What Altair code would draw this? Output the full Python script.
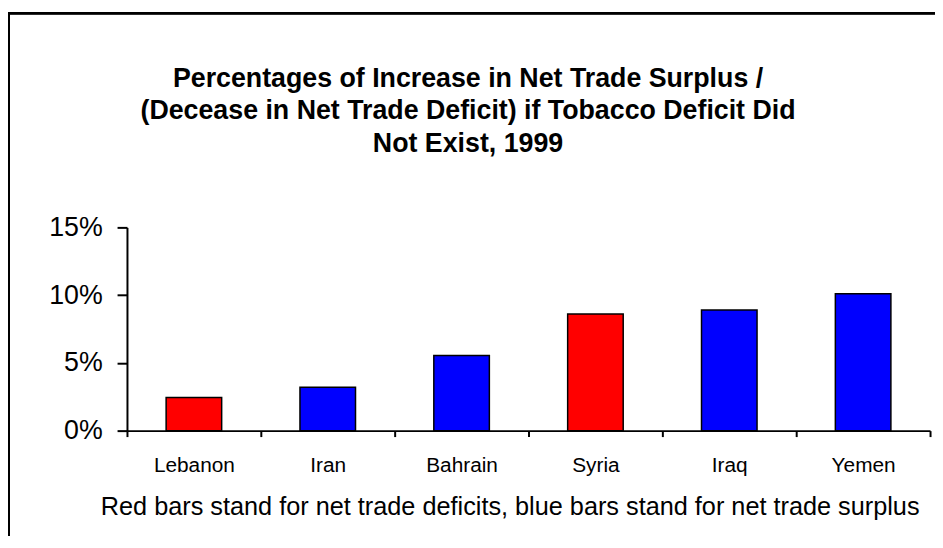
import altair as alt
import pandas as pd

countries = ["Lebanon", "Iran", "Bahrain", "Syria", "Iraq", "Yemen"]
values = [0.0245, 0.032, 0.0555, 0.086, 0.089, 0.101]
balance = ["deficit", "surplus", "surplus", "deficit", "surplus", "surplus"]
y_ticks = [0, 0.05, 0.10, 0.15]

title_lines = [
    "Percentages of Increase in Net Trade Surplus /",
    "(Decease in Net Trade Deficit) if Tobacco Deficit Did",
    "Not Exist, 1999",
]
footnote = "Red bars stand for net trade deficits, blue bars stand for net trade surplus"

df = pd.DataFrame({"country": countries, "value": values, "balance": balance})

FONT = "Liberation Sans"

bars = alt.Chart(df).mark_bar(
    stroke="black", strokeWidth=1.5, width=alt.RelativeBandSize(0.415)
).encode(
    x=alt.X(
        "country:N",
        sort=countries,
        scale=alt.Scale(paddingInner=0, paddingOuter=0),
        axis=alt.Axis(
            title=footnote,
            titleFont=FONT,
            titleFontSize=25.5,
            titleFontWeight="normal",
            titleColor="black",
            titlePadding=20,
            titleX=386,
            titleAnchor="middle",
            labelFont=FONT,
            labelFontSize=21,
            labelColor="black",
            labelAngle=0,
            labelPadding=18,
            domainColor="black",
            domainWidth=2,
            tickColor="black",
            tickWidth=2,
            tickSize=6,
            tickBand="extent",
            grid=False,
        ),
    ),
    y=alt.Y(
        "value:Q",
        scale=alt.Scale(domain=[0, 0.15], nice=False),
        axis=alt.Axis(
            title=None,
            values=y_ticks,
            format=".0%",
            labelFont=FONT,
            labelFontSize=27,
            labelColor="black",
            labelPadding=15,
            domainColor="black",
            domainWidth=2,
            tickColor="black",
            tickWidth=2,
            tickSize=10,
            grid=False,
        ),
    ),
    color=alt.Color(
        "balance:N",
        scale=alt.Scale(domain=["deficit", "surplus"], range=["#FF0000", "#0000FF"]),
        legend=None,
    ),
)

frame = alt.Chart(df).mark_rect(
    filled=False, stroke="black", strokeWidth=2
).encode(
    x=alt.value(-119), x2=alt.value(900), y=alt.value(-216), y2=alt.value(400)
)

title_layers = []
for i, line in enumerate(title_lines):
    title_layers.append(
        alt.Chart(pd.DataFrame({"t": [line]})).mark_text(
            font=FONT, fontSize=27, fontWeight="bold", color="black",
            align="center", baseline="alphabetic",
        ).encode(
            text="t:N",
            x=alt.value(344),
            y=alt.value(-142 + 33 * i),
        )
    )

chart = alt.layer(frame, bars, *title_layers).properties(
    width=810,
    height=205,
    autosize=alt.AutoSizeParams(type="none"),
    padding={"left": 120, "top": 219, "right": 5, "bottom": 104},
).configure_view(stroke=None)

chart.save("out.html", embed_options={"renderer": "svg", "actions": False})
